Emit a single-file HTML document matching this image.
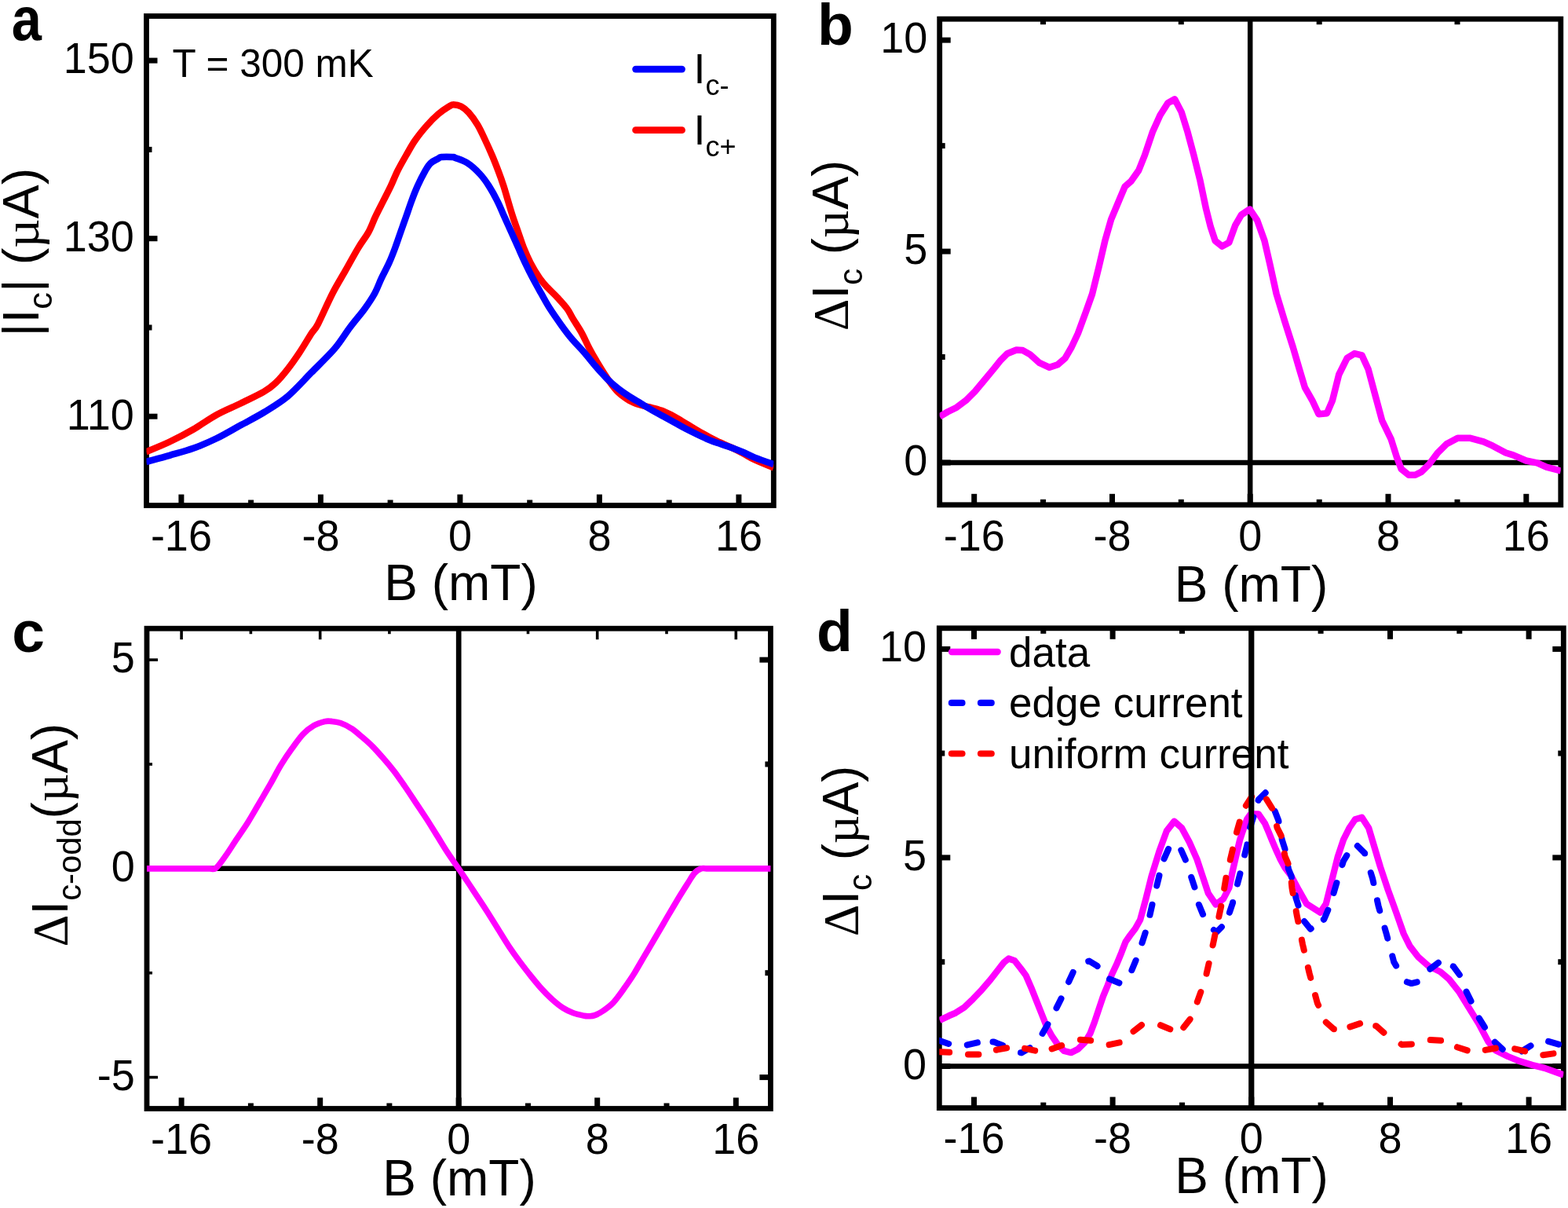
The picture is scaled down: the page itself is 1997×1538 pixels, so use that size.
<!DOCTYPE html>
<html><head><meta charset="utf-8"><style>html,body{margin:0;padding:0;background:#fff;overflow:hidden}svg{display:block}</style></head><body>
<svg width="1997" height="1538" viewBox="0 0 1997 1538">
<rect width="1997" height="1538" fill="#fff"/>
<defs><clipPath id="ca"><rect x="186.5" y="20.5" width="798.8" height="623"/></clipPath><clipPath id="cb"><rect x="1196.7" y="24.2" width="791.1" height="618.6"/></clipPath><clipPath id="cc"><rect x="187" y="800.2" width="794.4" height="611.3"/></clipPath><clipPath id="cd"><rect x="1196.3" y="799.8" width="795" height="610.8"/></clipPath></defs>
<rect x="186.5" y="20.5" width="798.8" height="623.0" fill="none" stroke="#000" stroke-width="6.8" stroke-linejoin="miter"/>
<line x1="230.9" y1="643.5" x2="230.9" y2="629.5" stroke="#000" stroke-width="7" stroke-linecap="butt"/>
<line x1="408.4" y1="643.5" x2="408.4" y2="629.5" stroke="#000" stroke-width="7" stroke-linecap="butt"/>
<line x1="585.9" y1="643.5" x2="585.9" y2="629.5" stroke="#000" stroke-width="7" stroke-linecap="butt"/>
<line x1="763.4" y1="643.5" x2="763.4" y2="629.5" stroke="#000" stroke-width="7" stroke-linecap="butt"/>
<line x1="940.9" y1="643.5" x2="940.9" y2="629.5" stroke="#000" stroke-width="7" stroke-linecap="butt"/>
<line x1="319.6" y1="643.5" x2="319.6" y2="636.5" stroke="#000" stroke-width="7" stroke-linecap="butt"/>
<line x1="497.1" y1="643.5" x2="497.1" y2="636.5" stroke="#000" stroke-width="7" stroke-linecap="butt"/>
<line x1="674.7" y1="643.5" x2="674.7" y2="636.5" stroke="#000" stroke-width="7" stroke-linecap="butt"/>
<line x1="852.2" y1="643.5" x2="852.2" y2="636.5" stroke="#000" stroke-width="7" stroke-linecap="butt"/>
<line x1="186.5" y1="77.1" x2="200.5" y2="77.1" stroke="#000" stroke-width="7" stroke-linecap="butt"/>
<line x1="186.5" y1="303.7" x2="200.5" y2="303.7" stroke="#000" stroke-width="7" stroke-linecap="butt"/>
<line x1="186.5" y1="530.2" x2="200.5" y2="530.2" stroke="#000" stroke-width="7" stroke-linecap="butt"/>
<line x1="186.5" y1="190.4" x2="193.5" y2="190.4" stroke="#000" stroke-width="7" stroke-linecap="butt"/>
<line x1="186.5" y1="417.0" x2="193.5" y2="417.0" stroke="#000" stroke-width="7" stroke-linecap="butt"/>
<g clip-path="url(#ca)">
<path d="M186.0,575.3 C191.0,573.2 206.0,567.3 216.0,562.5 C226.0,557.7 236.1,552.5 246.1,546.7 C256.1,541.0 266.1,533.5 276.1,528.0 C286.1,522.5 296.2,518.6 306.2,513.7 C316.2,508.8 328.7,503.1 336.2,498.7 C343.7,494.3 346.2,492.2 351.2,487.4 C356.2,482.6 361.3,476.5 366.3,470.1 C371.3,463.7 376.3,456.6 381.3,449.1 C386.3,441.6 392.4,431.1 396.3,425.0 C400.2,418.9 400.4,421.2 404.9,412.7 C409.4,404.1 417.5,385.1 423.4,373.7 C429.2,362.3 434.5,354.2 440.0,344.4 C445.5,334.6 451.7,323.2 456.6,315.1 C461.5,307.0 465.7,302.1 469.3,295.6 C472.9,289.1 474.9,282.6 478.0,276.1 C481.1,269.6 484.5,263.1 487.8,256.6 C491.1,250.1 494.5,243.6 497.6,237.1 C500.7,230.6 503.1,224.1 506.3,217.6 C509.6,211.1 513.4,204.5 517.1,198.0 C520.9,191.5 524.2,185.0 528.8,178.5 C533.3,172.0 539.5,164.5 544.4,159.0 C549.3,153.5 553.5,149.3 558.0,145.4 C562.5,141.5 568.4,137.6 571.7,135.6 C575.0,133.6 575.0,133.3 577.6,133.3 C580.2,133.3 584.1,133.9 587.3,135.6 C590.5,137.3 593.5,139.5 597.0,143.4 C600.5,147.3 604.8,153.2 608.3,159.0 C611.8,164.8 614.9,172.0 618.0,178.5 C621.1,185.0 624.0,191.5 626.8,198.0 C629.6,204.5 632.1,211.1 634.6,217.6 C637.1,224.1 639.4,230.6 641.5,237.1 C643.6,243.6 645.3,250.1 647.3,256.6 C649.2,263.1 651.1,269.6 653.2,276.1 C655.3,282.6 657.7,289.1 660.0,295.6 C662.3,302.1 664.2,308.6 666.8,315.1 C669.4,321.6 672.2,328.1 675.6,334.6 C679.0,341.1 683.7,348.9 687.3,354.1 C690.9,359.3 693.5,362.0 697.1,365.9 C700.7,369.8 704.6,373.1 708.8,377.6 C713.0,382.2 719.0,388.7 722.4,393.2 C725.8,397.7 726.0,399.6 729.0,404.7 C732.0,409.8 737.1,417.1 740.7,423.6 C744.3,430.1 747.2,437.1 750.8,443.9 C754.4,450.7 758.3,457.4 762.4,464.2 C766.5,471.0 771.4,478.8 775.5,484.6 C779.6,490.4 782.7,494.9 787.1,499.1 C791.5,503.3 796.9,507.2 801.7,510.0 C806.6,512.8 811.4,514.2 816.2,515.8 C821.0,517.4 825.9,518.1 830.7,519.4 C835.5,520.7 840.4,521.9 845.2,523.8 C850.0,525.7 854.9,528.4 859.7,531.0 C864.6,533.6 869.4,536.8 874.3,539.7 C879.1,542.6 884.0,545.7 888.8,548.5 C893.6,551.3 898.5,553.9 903.3,556.4 C908.1,558.9 912.9,561.4 917.8,563.7 C922.6,566.0 927.5,567.9 932.4,570.2 C937.2,572.5 942.1,575.0 946.9,577.5 C951.7,580.0 955.0,582.5 961.4,585.5 C967.8,588.5 981.3,593.8 985.3,595.5" fill="none" stroke="#ff0000" stroke-width="8.5" stroke-linejoin="round" stroke-linecap="butt"/>
<path d="M186.0,588.0 C191.0,586.6 206.0,582.7 216.0,579.8 C226.0,576.9 236.1,574.4 246.1,570.8 C256.1,567.2 266.1,562.9 276.1,558.0 C286.1,553.1 296.2,547.0 306.2,541.5 C316.2,536.0 326.2,531.1 336.2,525.0 C346.2,518.9 356.3,513.1 366.3,504.7 C376.3,496.3 386.3,484.8 396.3,474.6 C406.3,464.5 418.0,453.5 426.3,443.8 C434.6,434.1 439.5,425.0 445.9,416.6 C452.2,408.2 459.2,400.4 464.4,393.2 C469.6,386.0 473.5,380.2 477.1,373.7 C480.7,367.2 482.8,360.6 485.9,354.1 C489.0,347.6 492.7,341.1 495.6,334.6 C498.5,328.1 501.0,321.6 503.4,315.1 C505.8,308.6 507.9,302.1 510.2,295.6 C512.5,289.1 514.8,282.6 517.1,276.1 C519.4,269.6 521.5,263.1 523.9,256.6 C526.3,250.1 528.8,243.6 531.7,237.1 C534.6,230.6 538.7,222.5 541.5,217.6 C544.3,212.7 545.5,210.4 548.3,207.8 C551.0,205.2 555.7,203.3 558.0,202.0 C560.3,200.7 558.9,200.3 562.0,200.0 C565.1,199.7 573.6,199.8 576.6,200.0 C579.6,200.2 576.8,199.7 580.0,201.0 C583.2,202.3 590.4,204.4 595.6,207.8 C600.8,211.2 606.7,216.6 611.2,221.5 C615.8,226.4 619.1,231.2 622.9,237.1 C626.6,242.9 630.5,250.1 633.7,256.6 C637.0,263.1 639.5,269.6 642.4,276.1 C645.3,282.6 648.3,289.1 651.2,295.6 C654.1,302.1 657.1,308.6 660.0,315.1 C662.9,321.6 665.7,328.1 668.8,334.6 C671.9,341.1 675.1,347.6 678.5,354.1 C681.9,360.6 685.7,367.3 689.3,373.7 C692.9,380.1 695.8,385.7 700.0,392.3 C704.2,398.9 709.7,406.7 714.5,413.4 C719.3,420.1 724.1,426.5 729.0,432.3 C733.9,438.1 738.8,442.7 743.6,448.3 C748.5,453.9 753.3,460.1 758.1,465.7 C762.9,471.3 767.8,476.9 772.6,481.7 C777.4,486.5 782.2,490.8 787.1,494.7 C792.0,498.6 796.9,501.8 801.7,504.9 C806.6,508.0 811.4,510.7 816.2,513.6 C821.0,516.5 825.9,519.5 830.7,522.3 C835.5,525.1 840.4,527.6 845.2,530.3 C850.0,533.0 854.9,535.6 859.7,538.3 C864.6,541.0 869.4,543.8 874.3,546.3 C879.1,548.8 884.0,551.2 888.8,553.5 C893.6,555.8 898.5,558.1 903.3,560.1 C908.1,562.1 912.9,563.5 917.8,565.2 C922.6,566.9 927.5,568.4 932.4,570.2 C937.2,572.0 942.1,573.9 946.9,576.0 C951.7,578.1 955.0,580.1 961.4,582.6 C967.8,585.1 981.3,589.8 985.3,591.2" fill="none" stroke="#0000ff" stroke-width="8.5" stroke-linejoin="round" stroke-linecap="butt"/>
</g>
<text transform="translate(230.9,701.4) scale(1,1.045)" font-family='"Liberation Sans", Arial, sans-serif' font-size="54" text-anchor="middle">-16</text>
<text transform="translate(408.4,701.4) scale(1,1.045)" font-family='"Liberation Sans", Arial, sans-serif' font-size="54" text-anchor="middle">-8</text>
<text transform="translate(585.9,701.4) scale(1,1.045)" font-family='"Liberation Sans", Arial, sans-serif' font-size="54" text-anchor="middle">0</text>
<text transform="translate(763.4,701.4) scale(1,1.045)" font-family='"Liberation Sans", Arial, sans-serif' font-size="54" text-anchor="middle">8</text>
<text transform="translate(940.9,701.4) scale(1,1.045)" font-family='"Liberation Sans", Arial, sans-serif' font-size="54" text-anchor="middle">16</text>
<text transform="translate(170.8,93.4) scale(1,1.045)" font-family='"Liberation Sans", Arial, sans-serif' font-size="54" text-anchor="end">150</text>
<text transform="translate(170.8,320.0) scale(1,1.045)" font-family='"Liberation Sans", Arial, sans-serif' font-size="54" text-anchor="end">130</text>
<text transform="translate(170.8,546.5) scale(1,1.045)" font-family='"Liberation Sans", Arial, sans-serif' font-size="54" text-anchor="end">110</text>
<text x="587.0" y="763.7" font-family='"Liberation Sans", Arial, sans-serif' font-size="64" font-weight="normal" text-anchor="middle">B (mT)</text>
<text transform="translate(14.7,50.5) scale(0.915,1.045)" font-family='"Liberation Sans", Arial, sans-serif' font-size="75" font-weight="bold">a</text>
<text x="219.5" y="97.9" font-family='"Liberation Sans", Arial, sans-serif' font-size="49.5" font-weight="normal" text-anchor="start">T = 300 mK</text>
<line x1="809.6" y1="88.1" x2="868.5" y2="88.1" stroke="#0000ff" stroke-width="8.8" stroke-linecap="round"/>
<line x1="809.6" y1="165.7" x2="868.5" y2="165.7" stroke="#ff0000" stroke-width="8.8" stroke-linecap="round"/>
<text x="883.5" y="106.4" font-family='"Liberation Sans", Arial, sans-serif' font-size="53.5">I<tspan font-size="36" dy="15">c-</tspan></text>
<text x="883.5" y="184.3" font-family='"Liberation Sans", Arial, sans-serif' font-size="53.5">I<tspan font-size="36" dy="15">c+</tspan></text>
<text transform="translate(48.8,428.4) rotate(-90) scale(1.01,1)" font-family='"Liberation Sans", Arial, sans-serif' font-size="64">|I<tspan font-size="43" dy="16.8">c</tspan><tspan dy="-16.8">| (</tspan><tspan font-family='"Liberation Serif", "Times New Roman", serif'>µ</tspan>A)</text>
<line x1="1196.7" y1="589.0" x2="1987.8" y2="589.0" stroke="#000" stroke-width="6.5" stroke-linecap="butt"/>
<line x1="1592.2" y1="24.2" x2="1592.2" y2="642.8" stroke="#000" stroke-width="6.5" stroke-linecap="butt"/>
<rect x="1196.7" y="24.2" width="791.1" height="618.6" fill="none" stroke="#000" stroke-width="6.8" stroke-linejoin="miter"/>
<line x1="1240.7" y1="642.8" x2="1240.7" y2="628.8" stroke="#000" stroke-width="7" stroke-linecap="butt"/>
<line x1="1416.5" y1="642.8" x2="1416.5" y2="628.8" stroke="#000" stroke-width="7" stroke-linecap="butt"/>
<line x1="1592.2" y1="642.8" x2="1592.2" y2="628.8" stroke="#000" stroke-width="7" stroke-linecap="butt"/>
<line x1="1768.0" y1="642.8" x2="1768.0" y2="628.8" stroke="#000" stroke-width="7" stroke-linecap="butt"/>
<line x1="1943.8" y1="642.8" x2="1943.8" y2="628.8" stroke="#000" stroke-width="7" stroke-linecap="butt"/>
<line x1="1328.5" y1="642.8" x2="1328.5" y2="635.8" stroke="#000" stroke-width="7" stroke-linecap="butt"/>
<line x1="1504.3" y1="642.8" x2="1504.3" y2="635.8" stroke="#000" stroke-width="7" stroke-linecap="butt"/>
<line x1="1680.2" y1="642.8" x2="1680.2" y2="635.8" stroke="#000" stroke-width="7" stroke-linecap="butt"/>
<line x1="1856.0" y1="642.8" x2="1856.0" y2="635.8" stroke="#000" stroke-width="7" stroke-linecap="butt"/>
<line x1="1328.5" y1="24.2" x2="1328.5" y2="31.2" stroke="#000" stroke-width="7" stroke-linecap="butt"/>
<line x1="1504.3" y1="24.2" x2="1504.3" y2="31.2" stroke="#000" stroke-width="7" stroke-linecap="butt"/>
<line x1="1680.2" y1="24.2" x2="1680.2" y2="31.2" stroke="#000" stroke-width="7" stroke-linecap="butt"/>
<line x1="1856.0" y1="24.2" x2="1856.0" y2="31.2" stroke="#000" stroke-width="7" stroke-linecap="butt"/>
<line x1="1196.7" y1="589.0" x2="1210.7" y2="589.0" stroke="#000" stroke-width="7" stroke-linecap="butt"/>
<line x1="1196.7" y1="320.1" x2="1210.7" y2="320.1" stroke="#000" stroke-width="7" stroke-linecap="butt"/>
<line x1="1196.7" y1="51.1" x2="1210.7" y2="51.1" stroke="#000" stroke-width="7" stroke-linecap="butt"/>
<line x1="1196.7" y1="454.5" x2="1203.7" y2="454.5" stroke="#000" stroke-width="7" stroke-linecap="butt"/>
<line x1="1196.7" y1="185.6" x2="1203.7" y2="185.6" stroke="#000" stroke-width="7" stroke-linecap="butt"/>
<g clip-path="url(#cb)">
<polyline points="1196.8,530.4 1206.7,524.5 1218.4,518.7 1230.1,509.9 1241.8,498.2 1253.5,484.2 1265.2,470.1 1274.6,458.4 1282.8,450.2 1294.5,445.5 1302.7,446.1 1312.0,451.4 1323.7,461.9 1336.6,467.8 1347.1,464.3 1356.5,456.1 1364.7,442.0 1372.9,424.5 1383.0,397.0 1391.0,374.5 1399.5,339.9 1407.3,306.7 1415.1,279.4 1424.9,256.0 1432.7,237.5 1440.5,230.7 1450.2,217.0 1458.0,197.5 1467.8,168.3 1477.5,146.8 1487.3,131.2 1496.1,126.3 1504.8,142.9 1512.6,168.3 1520.4,197.5 1528.2,228.7 1536.0,265.8 1541.9,289.2 1547.7,306.7 1556.5,313.6 1565.3,308.7 1573.1,287.2 1580.9,273.6 1591.7,266.4 1601.1,280.4 1610.4,306.2 1617.4,336.6 1625.6,374.0 1636.2,409.1 1646.7,441.9 1654.9,470.0 1661.9,493.4 1671.3,509.8 1679.5,527.3 1690.0,526.2 1697.0,509.8 1705.2,477.0 1715.7,455.9 1725.1,450.1 1734.5,452.4 1742.6,470.0 1752.0,505.1 1760.2,535.5 1771.8,559.4 1778.8,581.8 1784.7,597.1 1794.1,604.7 1802.4,604.7 1810.6,600.6 1820.0,591.2 1830.6,577.1 1842.4,565.3 1856.5,557.7 1871.8,557.7 1889.4,562.4 1901.2,567.7 1917.7,576.5 1927.1,579.4 1943.6,586.5 1957.7,589.4 1969.5,594.7 1987.8,599.5" fill="none" stroke="#ff00ff" stroke-width="8.5" stroke-linejoin="round" stroke-linecap="butt"/>
</g>
<text transform="translate(1240.7,700.6) scale(1,1.045)" font-family='"Liberation Sans", Arial, sans-serif' font-size="54" text-anchor="middle">-16</text>
<text transform="translate(1416.5,700.6) scale(1,1.045)" font-family='"Liberation Sans", Arial, sans-serif' font-size="54" text-anchor="middle">-8</text>
<text transform="translate(1592.2,700.6) scale(1,1.045)" font-family='"Liberation Sans", Arial, sans-serif' font-size="54" text-anchor="middle">0</text>
<text transform="translate(1768.0,700.6) scale(1,1.045)" font-family='"Liberation Sans", Arial, sans-serif' font-size="54" text-anchor="middle">8</text>
<text transform="translate(1943.8,700.6) scale(1,1.045)" font-family='"Liberation Sans", Arial, sans-serif' font-size="54" text-anchor="middle">16</text>
<text transform="translate(1181.2,605.1) scale(1,1.045)" font-family='"Liberation Sans", Arial, sans-serif' font-size="54" text-anchor="end">0</text>
<text transform="translate(1181.2,336.2) scale(1,1.045)" font-family='"Liberation Sans", Arial, sans-serif' font-size="54" text-anchor="end">5</text>
<text transform="translate(1181.2,67.2) scale(1,1.045)" font-family='"Liberation Sans", Arial, sans-serif' font-size="54" text-anchor="end">10</text>
<text x="1593.5" y="765.5" font-family='"Liberation Sans", Arial, sans-serif' font-size="64" font-weight="normal" text-anchor="middle">B (mT)</text>
<text x="1041.0" y="56.5" font-family='"Liberation Sans", Arial, sans-serif' font-size="75" font-weight="bold" text-anchor="start">b</text>
<text transform="translate(1080,421.2) rotate(-90) scale(0.987,1)" font-family='"Liberation Sans", Arial, sans-serif' font-size="64"><tspan font-family='"Liberation Serif", "Times New Roman", serif'>Δ</tspan>I<tspan font-size="43" dy="17.5">c</tspan><tspan dy="-17.5"> (</tspan><tspan font-family='"Liberation Serif", "Times New Roman", serif'>µ</tspan>A)</text>
<line x1="187.0" y1="1105.8" x2="981.4" y2="1105.8" stroke="#000" stroke-width="6.5" stroke-linecap="butt"/>
<line x1="584.2" y1="800.2" x2="584.2" y2="1411.5" stroke="#000" stroke-width="6.7" stroke-linecap="butt"/>
<rect x="187.0" y="800.2" width="794.4" height="611.3" fill="none" stroke="#000" stroke-width="6.8" stroke-linejoin="miter"/>
<line x1="231.1" y1="1411.5" x2="231.1" y2="1397.5" stroke="#000" stroke-width="7" stroke-linecap="butt"/>
<line x1="407.7" y1="1411.5" x2="407.7" y2="1397.5" stroke="#000" stroke-width="7" stroke-linecap="butt"/>
<line x1="584.2" y1="1411.5" x2="584.2" y2="1397.5" stroke="#000" stroke-width="7" stroke-linecap="butt"/>
<line x1="760.7" y1="1411.5" x2="760.7" y2="1397.5" stroke="#000" stroke-width="7" stroke-linecap="butt"/>
<line x1="937.3" y1="1411.5" x2="937.3" y2="1397.5" stroke="#000" stroke-width="7" stroke-linecap="butt"/>
<line x1="319.4" y1="1411.5" x2="319.4" y2="1404.5" stroke="#000" stroke-width="7" stroke-linecap="butt"/>
<line x1="495.9" y1="1411.5" x2="495.9" y2="1404.5" stroke="#000" stroke-width="7" stroke-linecap="butt"/>
<line x1="672.5" y1="1411.5" x2="672.5" y2="1404.5" stroke="#000" stroke-width="7" stroke-linecap="butt"/>
<line x1="849.0" y1="1411.5" x2="849.0" y2="1404.5" stroke="#000" stroke-width="7" stroke-linecap="butt"/>
<line x1="231.1" y1="800.2" x2="231.1" y2="814.2" stroke="#000" stroke-width="3.6" stroke-linecap="butt"/>
<line x1="407.7" y1="800.2" x2="407.7" y2="814.2" stroke="#000" stroke-width="3.6" stroke-linecap="butt"/>
<line x1="760.7" y1="800.2" x2="760.7" y2="814.2" stroke="#000" stroke-width="3.6" stroke-linecap="butt"/>
<line x1="937.3" y1="800.2" x2="937.3" y2="814.2" stroke="#000" stroke-width="3.6" stroke-linecap="butt"/>
<line x1="319.4" y1="800.2" x2="319.4" y2="807.2" stroke="#000" stroke-width="3.6" stroke-linecap="butt"/>
<line x1="495.9" y1="800.2" x2="495.9" y2="807.2" stroke="#000" stroke-width="3.6" stroke-linecap="butt"/>
<line x1="672.5" y1="800.2" x2="672.5" y2="807.2" stroke="#000" stroke-width="3.6" stroke-linecap="butt"/>
<line x1="849.0" y1="800.2" x2="849.0" y2="807.2" stroke="#000" stroke-width="3.6" stroke-linecap="butt"/>
<line x1="187.0" y1="840.1" x2="201.0" y2="840.1" stroke="#000" stroke-width="3.6" stroke-linecap="butt"/>
<line x1="187.0" y1="1371.6" x2="201.0" y2="1371.6" stroke="#000" stroke-width="3.6" stroke-linecap="butt"/>
<line x1="187.0" y1="973.0" x2="194.0" y2="973.0" stroke="#000" stroke-width="3.6" stroke-linecap="butt"/>
<line x1="187.0" y1="1238.7" x2="194.0" y2="1238.7" stroke="#000" stroke-width="3.6" stroke-linecap="butt"/>
<line x1="981.4" y1="840.1" x2="967.4" y2="840.1" stroke="#000" stroke-width="7" stroke-linecap="butt"/>
<line x1="981.4" y1="1371.6" x2="967.4" y2="1371.6" stroke="#000" stroke-width="7" stroke-linecap="butt"/>
<line x1="981.4" y1="973.0" x2="974.4" y2="973.0" stroke="#000" stroke-width="7" stroke-linecap="butt"/>
<line x1="981.4" y1="1238.7" x2="974.4" y2="1238.7" stroke="#000" stroke-width="7" stroke-linecap="butt"/>
<g clip-path="url(#cc)">
<path d="M187.0,1105.9 C188.3,1105.9 192.3,1105.9 195.0,1105.9 C197.7,1105.9 200.3,1105.9 203.0,1105.9 C205.7,1105.9 208.3,1105.9 211.0,1105.9 C213.7,1105.9 216.3,1105.9 219.0,1105.9 C221.7,1105.9 224.3,1105.9 227.0,1105.9 C229.7,1105.9 232.3,1105.9 235.0,1105.9 C237.7,1105.9 240.3,1105.9 243.0,1105.9 C245.7,1105.9 248.3,1105.9 251.0,1105.9 C253.7,1105.9 256.3,1105.9 259.0,1105.9 C261.7,1105.9 264.5,1105.9 267.0,1105.9 C269.5,1105.9 271.7,1107.2 274.0,1105.9 C276.3,1104.7 278.7,1101.3 281.0,1098.4 C283.3,1095.5 284.5,1093.8 288.0,1088.7 C291.5,1083.6 297.2,1074.7 301.9,1067.7 C306.5,1060.7 311.2,1054.2 315.9,1046.7 C320.6,1039.2 325.2,1030.9 329.9,1023.0 C334.5,1015.1 339.1,1007.4 343.8,999.2 C348.5,991.1 353.1,981.8 357.8,974.1 C362.5,966.4 367.1,959.6 371.8,953.1 C376.5,946.6 381.2,939.8 385.8,934.9 C390.4,930.0 395.1,926.5 399.7,923.8 C404.3,921.1 410.0,919.5 413.7,918.6 C417.4,917.7 418.7,918.1 422.0,918.4 C425.3,918.7 429.5,919.0 433.7,920.5 C437.9,922.0 442.8,924.3 447.3,927.3 C451.9,930.2 456.4,934.3 461.0,938.2 C465.6,942.1 470.1,945.9 474.6,950.5 C479.2,955.1 483.8,960.4 488.3,965.6 C492.9,970.8 497.3,976.0 501.9,981.9 C506.4,987.8 511.0,994.5 515.6,1001.1 C520.2,1007.7 524.8,1014.8 529.3,1021.6 C533.8,1028.4 538.3,1035.0 542.9,1042.0 C547.5,1049.0 552.0,1056.6 556.6,1063.9 C561.2,1071.2 565.6,1078.7 570.2,1085.7 C574.8,1092.7 579.8,1099.6 584.1,1105.9 C588.4,1112.2 592.1,1117.7 596.0,1123.5 C599.9,1129.3 603.1,1134.3 607.3,1140.6 C611.5,1146.9 616.5,1154.4 621.0,1161.5 C625.5,1168.6 630.1,1176.0 634.6,1183.3 C639.1,1190.6 643.8,1198.4 648.3,1205.2 C652.8,1212.0 657.3,1218.2 661.9,1224.3 C666.5,1230.4 671.0,1236.3 675.6,1242.0 C680.2,1247.7 684.8,1253.4 689.3,1258.4 C693.8,1263.4 698.3,1268.0 702.9,1272.1 C707.5,1276.2 712.0,1280.0 716.6,1283.0 C721.2,1286.0 725.7,1288.1 730.2,1289.8 C734.8,1291.5 740.5,1292.6 743.9,1293.3 C747.3,1294.0 748.6,1293.8 750.9,1293.7 C753.2,1293.6 754.8,1293.6 757.5,1292.6 C760.2,1291.6 763.4,1290.2 767.3,1287.5 C771.2,1284.8 776.5,1281.4 781.0,1276.6 C785.5,1271.8 790.1,1265.2 794.6,1258.8 C799.1,1252.4 803.8,1245.7 808.3,1238.4 C812.8,1231.1 817.3,1222.9 821.9,1215.2 C826.5,1207.5 831.0,1199.8 835.6,1192.0 C840.2,1184.2 844.7,1176.5 849.2,1168.7 C853.8,1161.0 858.4,1153.0 862.9,1145.5 C867.4,1138.0 872.9,1129.4 876.5,1123.7 C880.1,1118.0 882.0,1114.4 884.7,1111.4 C887.4,1108.4 890.2,1106.8 892.9,1105.9 C895.6,1105.0 898.3,1105.9 901.0,1105.9 C903.7,1105.9 906.3,1105.9 909.0,1105.9 C911.7,1105.9 914.3,1105.9 917.0,1105.9 C919.7,1105.9 922.3,1105.9 925.0,1105.9 C927.7,1105.9 930.3,1105.9 933.0,1105.9 C935.7,1105.9 938.3,1105.9 941.0,1105.9 C943.7,1105.9 946.3,1105.9 949.0,1105.9 C951.7,1105.9 954.3,1105.9 957.0,1105.9 C959.7,1105.9 962.3,1105.9 965.0,1105.9 C967.7,1105.9 970.3,1105.9 973.0,1105.9 C975.7,1105.9 979.6,1105.9 981.0,1105.9 C982.4,1105.9 981.3,1105.9 981.4,1105.9" fill="none" stroke="#ff00ff" stroke-width="7.6" stroke-linejoin="round" stroke-linecap="butt"/>
</g>
<text transform="translate(231.1,1468.5) scale(1,1.045)" font-family='"Liberation Sans", Arial, sans-serif' font-size="54" text-anchor="middle">-16</text>
<text transform="translate(407.7,1468.5) scale(1,1.045)" font-family='"Liberation Sans", Arial, sans-serif' font-size="54" text-anchor="middle">-8</text>
<text transform="translate(584.2,1468.5) scale(1,1.045)" font-family='"Liberation Sans", Arial, sans-serif' font-size="54" text-anchor="middle">0</text>
<text transform="translate(760.7,1468.5) scale(1,1.045)" font-family='"Liberation Sans", Arial, sans-serif' font-size="54" text-anchor="middle">8</text>
<text transform="translate(937.3,1468.5) scale(1,1.045)" font-family='"Liberation Sans", Arial, sans-serif' font-size="54" text-anchor="middle">16</text>
<text transform="translate(171.8,856.4) scale(1,1.045)" font-family='"Liberation Sans", Arial, sans-serif' font-size="54" text-anchor="end">5</text>
<text transform="translate(171.8,1122.1) scale(1,1.045)" font-family='"Liberation Sans", Arial, sans-serif' font-size="54" text-anchor="end">0</text>
<text transform="translate(171.8,1387.9) scale(1,1.045)" font-family='"Liberation Sans", Arial, sans-serif' font-size="54" text-anchor="end">-5</text>
<text x="585.0" y="1522.2" font-family='"Liberation Sans", Arial, sans-serif' font-size="64" font-weight="normal" text-anchor="middle">B (mT)</text>
<text x="15.2" y="829.6" font-family='"Liberation Sans", Arial, sans-serif' font-size="75" font-weight="bold" text-anchor="start">c</text>
<text transform="translate(86.1,1205.5) rotate(-90) scale(0.995,1)" font-family='"Liberation Sans", Arial, sans-serif' font-size="64"><tspan font-family='"Liberation Serif", "Times New Roman", serif'>Δ</tspan>I<tspan font-size="42" dy="16.7">c-odd</tspan><tspan dy="-16.7">(</tspan><tspan font-family='"Liberation Serif", "Times New Roman", serif'>µ</tspan>A)</text>
<line x1="1196.3" y1="1357.5" x2="1991.3" y2="1357.5" stroke="#000" stroke-width="6.5" stroke-linecap="butt"/>
<line x1="1593.8" y1="799.8" x2="1593.8" y2="1410.6" stroke="#000" stroke-width="6.8" stroke-linecap="butt"/>
<rect x="1196.3" y="799.8" width="795.0" height="610.8" fill="none" stroke="#000" stroke-width="6.8" stroke-linejoin="miter"/>
<line x1="1240.5" y1="1410.6" x2="1240.5" y2="1396.6" stroke="#000" stroke-width="7" stroke-linecap="butt"/>
<line x1="1417.1" y1="1410.6" x2="1417.1" y2="1396.6" stroke="#000" stroke-width="7" stroke-linecap="butt"/>
<line x1="1593.8" y1="1410.6" x2="1593.8" y2="1396.6" stroke="#000" stroke-width="7" stroke-linecap="butt"/>
<line x1="1770.5" y1="1410.6" x2="1770.5" y2="1396.6" stroke="#000" stroke-width="7" stroke-linecap="butt"/>
<line x1="1947.1" y1="1410.6" x2="1947.1" y2="1396.6" stroke="#000" stroke-width="7" stroke-linecap="butt"/>
<line x1="1328.8" y1="1410.6" x2="1328.8" y2="1403.6" stroke="#000" stroke-width="7" stroke-linecap="butt"/>
<line x1="1505.5" y1="1410.6" x2="1505.5" y2="1403.6" stroke="#000" stroke-width="7" stroke-linecap="butt"/>
<line x1="1682.1" y1="1410.6" x2="1682.1" y2="1403.6" stroke="#000" stroke-width="7" stroke-linecap="butt"/>
<line x1="1858.8" y1="1410.6" x2="1858.8" y2="1403.6" stroke="#000" stroke-width="7" stroke-linecap="butt"/>
<line x1="1240.5" y1="799.8" x2="1240.5" y2="813.8" stroke="#000" stroke-width="7" stroke-linecap="butt"/>
<line x1="1417.1" y1="799.8" x2="1417.1" y2="813.8" stroke="#000" stroke-width="7" stroke-linecap="butt"/>
<line x1="1770.5" y1="799.8" x2="1770.5" y2="813.8" stroke="#000" stroke-width="7" stroke-linecap="butt"/>
<line x1="1947.1" y1="799.8" x2="1947.1" y2="813.8" stroke="#000" stroke-width="7" stroke-linecap="butt"/>
<line x1="1328.8" y1="799.8" x2="1328.8" y2="806.8" stroke="#000" stroke-width="7" stroke-linecap="butt"/>
<line x1="1505.5" y1="799.8" x2="1505.5" y2="806.8" stroke="#000" stroke-width="7" stroke-linecap="butt"/>
<line x1="1682.1" y1="799.8" x2="1682.1" y2="806.8" stroke="#000" stroke-width="7" stroke-linecap="butt"/>
<line x1="1858.8" y1="799.8" x2="1858.8" y2="806.8" stroke="#000" stroke-width="7" stroke-linecap="butt"/>
<line x1="1196.3" y1="826.4" x2="1210.3" y2="826.4" stroke="#000" stroke-width="7" stroke-linecap="butt"/>
<line x1="1196.3" y1="1091.9" x2="1210.3" y2="1091.9" stroke="#000" stroke-width="7" stroke-linecap="butt"/>
<line x1="1196.3" y1="1357.5" x2="1210.3" y2="1357.5" stroke="#000" stroke-width="7" stroke-linecap="butt"/>
<line x1="1196.3" y1="959.1" x2="1203.3" y2="959.1" stroke="#000" stroke-width="7" stroke-linecap="butt"/>
<line x1="1196.3" y1="1224.7" x2="1203.3" y2="1224.7" stroke="#000" stroke-width="7" stroke-linecap="butt"/>
<line x1="1991.3" y1="826.4" x2="1977.3" y2="826.4" stroke="#000" stroke-width="7" stroke-linecap="butt"/>
<line x1="1991.3" y1="1091.9" x2="1977.3" y2="1091.9" stroke="#000" stroke-width="7" stroke-linecap="butt"/>
<line x1="1991.3" y1="1357.5" x2="1977.3" y2="1357.5" stroke="#000" stroke-width="7" stroke-linecap="butt"/>
<line x1="1991.3" y1="959.1" x2="1984.3" y2="959.1" stroke="#000" stroke-width="7" stroke-linecap="butt"/>
<line x1="1991.3" y1="1224.7" x2="1984.3" y2="1224.7" stroke="#000" stroke-width="7" stroke-linecap="butt"/>
<g clip-path="url(#cd)">
<polyline points="1196.7,1299.0 1208.3,1293.4 1217.1,1289.6 1228.2,1282.4 1239.2,1271.9 1250.3,1260.3 1261.3,1247.5 1272.4,1233.2 1279.0,1224.9 1284.6,1220.5 1292.3,1223.2 1300.0,1233.0 1306.6,1241.9 1313.3,1257.3 1319.9,1273.9 1326.5,1290.5 1333.1,1307.1 1339.8,1319.2 1347.5,1330.3 1355.2,1338.0 1364.1,1340.2 1372.9,1335.8 1381.8,1327.0 1388.4,1315.9 1393.9,1301.5 1399.4,1285.0 1405.0,1268.4 1410.5,1255.1 1416.0,1240.8 1422.7,1226.4 1428.2,1213.1 1433.7,1198.8 1439.2,1191.0 1445.9,1182.2 1452.2,1170.9 1459.4,1144.4 1466.6,1115.5 1476.3,1084.2 1485.9,1057.8 1495.5,1045.7 1505.1,1054.2 1514.8,1072.2 1524.4,1093.9 1531.6,1115.5 1538.8,1137.2 1548.5,1151.6 1558.1,1144.4 1565.5,1130.0 1570.0,1108.3 1574.6,1088.3 1579.1,1069.2 1583.7,1055.5 1588.2,1042.8 1592.8,1036.4 1602.8,1036.4 1611.0,1048.3 1615.6,1059.2 1620.1,1070.1 1624.7,1081.0 1630.1,1092.9 1636.5,1104.7 1644.7,1115.6 1654.2,1133.4 1664.1,1150.7 1681.4,1161.8 1688.8,1150.7 1696.2,1121.0 1703.6,1091.4 1711.0,1069.1 1718.4,1054.3 1725.9,1043.2 1734.5,1040.7 1743.2,1054.3 1750.6,1079.0 1758.0,1103.7 1767.9,1133.4 1777.8,1160.6 1787.8,1189.0 1795.6,1204.6 1806.5,1218.7 1819.0,1229.6 1834.6,1237.4 1845.5,1246.7 1858.0,1262.3 1870.5,1282.6 1883.0,1302.9 1895.5,1326.3 1904.8,1337.2 1920.4,1345.0 1936.0,1351.3 1951.6,1356.0 1967.2,1359.9 1991.3,1368.5" fill="none" stroke="#ff00ff" stroke-width="8.3" stroke-linejoin="round" stroke-linecap="butt"/>
<polyline points="1196.7,1324.9 1208.2,1329.0" fill="none" stroke="#0000ff" stroke-width="8" stroke-linejoin="round" stroke-linecap="round"/>
<polyline points="1231.8,1330.4 1244.9,1327.3" fill="none" stroke="#0000ff" stroke-width="8" stroke-linejoin="round" stroke-linecap="round"/>
<polyline points="1264.5,1326.6 1265.8,1326.6 1277.1,1330.9" fill="none" stroke="#0000ff" stroke-width="8" stroke-linejoin="round" stroke-linecap="round"/>
<polyline points="1300.0,1340.2 1301.1,1340.4 1311.7,1334.1" fill="none" stroke="#0000ff" stroke-width="8" stroke-linejoin="round" stroke-linecap="round"/>
<polyline points="1327.6,1315.9 1334.4,1304.3" fill="none" stroke="#0000ff" stroke-width="8" stroke-linejoin="round" stroke-linecap="round"/>
<polyline points="1345.5,1283.4 1351.5,1271.4" fill="none" stroke="#0000ff" stroke-width="8" stroke-linejoin="round" stroke-linecap="round"/>
<polyline points="1361.1,1250.0 1366.7,1237.9" fill="none" stroke="#0000ff" stroke-width="8" stroke-linejoin="round" stroke-linecap="round"/>
<polyline points="1386.2,1223.9 1387.3,1223.6 1397.2,1229.7 1397.6,1230.1" fill="none" stroke="#0000ff" stroke-width="8" stroke-linejoin="round" stroke-linecap="round"/>
<polyline points="1413.0,1246.4 1425.4,1251.5" fill="none" stroke="#0000ff" stroke-width="8" stroke-linejoin="round" stroke-linecap="round"/>
<polyline points="1441.4,1235.2 1446.6,1222.8" fill="none" stroke="#0000ff" stroke-width="8" stroke-linejoin="round" stroke-linecap="round"/>
<polyline points="1454.5,1200.4 1454.7,1199.9 1458.7,1187.6" fill="none" stroke="#0000ff" stroke-width="8" stroke-linejoin="round" stroke-linecap="round"/>
<polyline points="1464.5,1164.8 1467.5,1151.7" fill="none" stroke="#0000ff" stroke-width="8" stroke-linejoin="round" stroke-linecap="round"/>
<polyline points="1473.3,1127.6 1476.3,1115.5 1476.5,1114.6" fill="none" stroke="#0000ff" stroke-width="8" stroke-linejoin="round" stroke-linecap="round"/>
<polyline points="1482.6,1093.3 1488.1,1081.0" fill="none" stroke="#0000ff" stroke-width="8" stroke-linejoin="round" stroke-linecap="round"/>
<polyline points="1504.3,1082.4 1509.8,1094.6" fill="none" stroke="#0000ff" stroke-width="8" stroke-linejoin="round" stroke-linecap="round"/>
<polyline points="1517.2,1116.8 1521.4,1129.5" fill="none" stroke="#0000ff" stroke-width="8" stroke-linejoin="round" stroke-linecap="round"/>
<polyline points="1526.9,1151.8 1532.0,1164.1" fill="none" stroke="#0000ff" stroke-width="8" stroke-linejoin="round" stroke-linecap="round"/>
<polyline points="1545.9,1184.0 1549.7,1186.5 1555.9,1180.2" fill="none" stroke="#0000ff" stroke-width="8" stroke-linejoin="round" stroke-linecap="round"/>
<polyline points="1565.9,1161.8 1570.1,1149.2 1570.1,1149.1" fill="none" stroke="#0000ff" stroke-width="8" stroke-linejoin="round" stroke-linecap="round"/>
<polyline points="1576.0,1125.4 1576.1,1125.1 1579.4,1112.4" fill="none" stroke="#0000ff" stroke-width="8" stroke-linejoin="round" stroke-linecap="round"/>
<polyline points="1585.2,1088.4 1588.2,1076.5 1588.4,1075.4" fill="none" stroke="#0000ff" stroke-width="8" stroke-linejoin="round" stroke-linecap="round"/>
<polyline points="1592.1,1053.2 1596.3,1040.4" fill="none" stroke="#0000ff" stroke-width="8" stroke-linejoin="round" stroke-linecap="round"/>
<polyline points="1602.6,1018.9 1602.8,1018.2 1611.7,1009.3" fill="none" stroke="#0000ff" stroke-width="8" stroke-linejoin="round" stroke-linecap="round"/>
<polyline points="1623.8,1033.0 1628.3,1044.6 1628.5,1045.5" fill="none" stroke="#0000ff" stroke-width="8" stroke-linejoin="round" stroke-linecap="round"/>
<polyline points="1632.6,1068.1 1632.8,1069.2 1636.5,1080.9" fill="none" stroke="#0000ff" stroke-width="8" stroke-linejoin="round" stroke-linecap="round"/>
<polyline points="1640.6,1104.1 1641.0,1106.5 1644.7,1115.6 1644.9,1116.7" fill="none" stroke="#0000ff" stroke-width="8" stroke-linejoin="round" stroke-linecap="round"/>
<polyline points="1649.8,1140.0 1650.5,1143.3 1653.5,1152.8" fill="none" stroke="#0000ff" stroke-width="8" stroke-linejoin="round" stroke-linecap="round"/>
<polyline points="1661.1,1173.0 1669.0,1182.8 1669.7,1182.3" fill="none" stroke="#0000ff" stroke-width="8" stroke-linejoin="round" stroke-linecap="round"/>
<polyline points="1685.8,1170.8 1686.3,1170.5 1691.3,1158.7" fill="none" stroke="#0000ff" stroke-width="8" stroke-linejoin="round" stroke-linecap="round"/>
<polyline points="1698.6,1136.9 1701.1,1128.4 1702.4,1124.1" fill="none" stroke="#0000ff" stroke-width="8" stroke-linejoin="round" stroke-linecap="round"/>
<polyline points="1709.5,1101.1 1711.0,1096.3 1715.3,1089.1" fill="none" stroke="#0000ff" stroke-width="8" stroke-linejoin="round" stroke-linecap="round"/>
<polyline points="1728.8,1077.0 1738.2,1086.4 1738.2,1086.5" fill="none" stroke="#0000ff" stroke-width="8" stroke-linejoin="round" stroke-linecap="round"/>
<polyline points="1745.8,1111.1 1748.1,1118.6 1749.3,1124.0" fill="none" stroke="#0000ff" stroke-width="8" stroke-linejoin="round" stroke-linecap="round"/>
<polyline points="1754.0,1146.3 1755.5,1153.2 1757.2,1159.3" fill="none" stroke="#0000ff" stroke-width="8" stroke-linejoin="round" stroke-linecap="round"/>
<polyline points="1763.6,1181.7 1765.4,1187.8 1767.2,1194.6" fill="none" stroke="#0000ff" stroke-width="8" stroke-linejoin="round" stroke-linecap="round"/>
<polyline points="1773.3,1217.3 1775.3,1224.9 1778.1,1229.6" fill="none" stroke="#0000ff" stroke-width="8" stroke-linejoin="round" stroke-linecap="round"/>
<polyline points="1791.9,1250.2 1797.6,1252.1 1804.7,1250.3" fill="none" stroke="#0000ff" stroke-width="8" stroke-linejoin="round" stroke-linecap="round"/>
<polyline points="1821.3,1233.8 1831.9,1225.7" fill="none" stroke="#0000ff" stroke-width="8" stroke-linejoin="round" stroke-linecap="round"/>
<polyline points="1850.8,1230.3 1851.0,1230.4 1858.8,1241.0" fill="none" stroke="#0000ff" stroke-width="8" stroke-linejoin="round" stroke-linecap="round"/>
<polyline points="1867.5,1262.6 1873.5,1274.6" fill="none" stroke="#0000ff" stroke-width="8" stroke-linejoin="round" stroke-linecap="round"/>
<polyline points="1883.8,1296.4 1890.8,1307.6 1890.9,1307.8" fill="none" stroke="#0000ff" stroke-width="8" stroke-linejoin="round" stroke-linecap="round"/>
<polyline points="1903.8,1326.8 1913.7,1335.9" fill="none" stroke="#0000ff" stroke-width="8" stroke-linejoin="round" stroke-linecap="round"/>
<polyline points="1938.1,1338.5 1949.5,1331.4" fill="none" stroke="#0000ff" stroke-width="8" stroke-linejoin="round" stroke-linecap="round"/>
<polyline points="1972.1,1325.8 1985.0,1329.6" fill="none" stroke="#0000ff" stroke-width="8" stroke-linejoin="round" stroke-linecap="round"/>
<polyline points="1196.7,1339.3 1209.2,1339.8" fill="none" stroke="#ff0000" stroke-width="8" stroke-linejoin="round" stroke-linecap="round"/>
<polyline points="1233.0,1342.6 1246.4,1342.6" fill="none" stroke="#ff0000" stroke-width="8" stroke-linejoin="round" stroke-linecap="round"/>
<polyline points="1268.9,1336.7 1282.1,1334.3" fill="none" stroke="#ff0000" stroke-width="8" stroke-linejoin="round" stroke-linecap="round"/>
<polyline points="1305.1,1334.9 1318.2,1337.6" fill="none" stroke="#ff0000" stroke-width="8" stroke-linejoin="round" stroke-linecap="round"/>
<polyline points="1339.6,1335.5 1352.2,1331.0" fill="none" stroke="#ff0000" stroke-width="8" stroke-linejoin="round" stroke-linecap="round"/>
<polyline points="1375.9,1323.7 1389.2,1324.7" fill="none" stroke="#ff0000" stroke-width="8" stroke-linejoin="round" stroke-linecap="round"/>
<polyline points="1412.6,1330.1 1425.7,1327.3" fill="none" stroke="#ff0000" stroke-width="8" stroke-linejoin="round" stroke-linecap="round"/>
<polyline points="1443.5,1313.2 1454.0,1305.0" fill="none" stroke="#ff0000" stroke-width="8" stroke-linejoin="round" stroke-linecap="round"/>
<polyline points="1478.0,1305.2 1490.3,1310.4" fill="none" stroke="#ff0000" stroke-width="8" stroke-linejoin="round" stroke-linecap="round"/>
<polyline points="1507.3,1308.2 1515.6,1297.7" fill="none" stroke="#ff0000" stroke-width="8" stroke-linejoin="round" stroke-linecap="round"/>
<polyline points="1524.8,1275.6 1529.3,1263.0" fill="none" stroke="#ff0000" stroke-width="8" stroke-linejoin="round" stroke-linecap="round"/>
<polyline points="1536.6,1239.7 1539.6,1226.7" fill="none" stroke="#ff0000" stroke-width="8" stroke-linejoin="round" stroke-linecap="round"/>
<polyline points="1544.6,1203.4 1544.9,1202.2 1547.4,1190.3" fill="none" stroke="#ff0000" stroke-width="8" stroke-linejoin="round" stroke-linecap="round"/>
<polyline points="1552.4,1167.0 1555.2,1153.9" fill="none" stroke="#ff0000" stroke-width="8" stroke-linejoin="round" stroke-linecap="round"/>
<polyline points="1559.2,1131.1 1561.4,1117.8" fill="none" stroke="#ff0000" stroke-width="8" stroke-linejoin="round" stroke-linecap="round"/>
<polyline points="1566.8,1094.7 1569.9,1081.6" fill="none" stroke="#ff0000" stroke-width="8" stroke-linejoin="round" stroke-linecap="round"/>
<polyline points="1575.0,1059.6 1578.7,1046.7" fill="none" stroke="#ff0000" stroke-width="8" stroke-linejoin="round" stroke-linecap="round"/>
<polyline points="1586.9,1025.7 1594.1,1014.4" fill="none" stroke="#ff0000" stroke-width="8" stroke-linejoin="round" stroke-linecap="round"/>
<polyline points="1613.0,1017.6 1620.1,1029.0" fill="none" stroke="#ff0000" stroke-width="8" stroke-linejoin="round" stroke-linecap="round"/>
<polyline points="1626.1,1052.0 1626.5,1053.7 1631.7,1064.1" fill="none" stroke="#ff0000" stroke-width="8" stroke-linejoin="round" stroke-linecap="round"/>
<polyline points="1635.9,1086.8 1636.5,1090.1 1640.5,1099.3" fill="none" stroke="#ff0000" stroke-width="8" stroke-linejoin="round" stroke-linecap="round"/>
<polyline points="1644.8,1123.7 1645.5,1130.9 1646.6,1137.0" fill="none" stroke="#ff0000" stroke-width="8" stroke-linejoin="round" stroke-linecap="round"/>
<polyline points="1650.7,1160.1 1651.7,1165.5 1653.3,1173.3" fill="none" stroke="#ff0000" stroke-width="8" stroke-linejoin="round" stroke-linecap="round"/>
<polyline points="1657.9,1196.6 1659.1,1202.6 1660.8,1209.7" fill="none" stroke="#ff0000" stroke-width="8" stroke-linejoin="round" stroke-linecap="round"/>
<polyline points="1665.9,1231.8 1667.8,1239.7 1669.2,1244.8" fill="none" stroke="#ff0000" stroke-width="8" stroke-linejoin="round" stroke-linecap="round"/>
<polyline points="1675.1,1267.1 1677.7,1276.8 1679.1,1279.9" fill="none" stroke="#ff0000" stroke-width="8" stroke-linejoin="round" stroke-linecap="round"/>
<polyline points="1688.8,1301.5 1688.8,1301.5 1698.7,1310.2 1698.9,1310.2" fill="none" stroke="#ff0000" stroke-width="8" stroke-linejoin="round" stroke-linecap="round"/>
<polyline points="1719.4,1307.4 1732.1,1303.1" fill="none" stroke="#ff0000" stroke-width="8" stroke-linejoin="round" stroke-linecap="round"/>
<polyline points="1752.2,1306.2 1753.1,1306.4 1762.4,1314.7" fill="none" stroke="#ff0000" stroke-width="8" stroke-linejoin="round" stroke-linecap="round"/>
<polyline points="1784.6,1329.5 1785.2,1329.9 1797.9,1329.5" fill="none" stroke="#ff0000" stroke-width="8" stroke-linejoin="round" stroke-linecap="round"/>
<polyline points="1821.7,1324.1 1835.1,1324.7" fill="none" stroke="#ff0000" stroke-width="8" stroke-linejoin="round" stroke-linecap="round"/>
<polyline points="1855.9,1333.2 1868.7,1337.4" fill="none" stroke="#ff0000" stroke-width="8" stroke-linejoin="round" stroke-linecap="round"/>
<polyline points="1891.7,1336.9 1904.9,1334.5" fill="none" stroke="#ff0000" stroke-width="8" stroke-linejoin="round" stroke-linecap="round"/>
<polyline points="1929.2,1335.3 1942.2,1338.4" fill="none" stroke="#ff0000" stroke-width="8" stroke-linejoin="round" stroke-linecap="round"/>
<polyline points="1965.3,1343.2 1978.5,1341.4" fill="none" stroke="#ff0000" stroke-width="8" stroke-linejoin="round" stroke-linecap="round"/>
</g>
<text transform="translate(1240.5,1468.2) scale(1,1.045)" font-family='"Liberation Sans", Arial, sans-serif' font-size="54" text-anchor="middle">-16</text>
<text transform="translate(1417.1,1468.2) scale(1,1.045)" font-family='"Liberation Sans", Arial, sans-serif' font-size="54" text-anchor="middle">-8</text>
<text transform="translate(1593.8,1468.2) scale(1,1.045)" font-family='"Liberation Sans", Arial, sans-serif' font-size="54" text-anchor="middle">0</text>
<text transform="translate(1770.5,1468.2) scale(1,1.045)" font-family='"Liberation Sans", Arial, sans-serif' font-size="54" text-anchor="middle">8</text>
<text transform="translate(1947.1,1468.2) scale(1,1.045)" font-family='"Liberation Sans", Arial, sans-serif' font-size="54" text-anchor="middle">16</text>
<text transform="translate(1180.1,842.4) scale(1,1.045)" font-family='"Liberation Sans", Arial, sans-serif' font-size="54" text-anchor="end">10</text>
<text transform="translate(1180.1,1107.9) scale(1,1.045)" font-family='"Liberation Sans", Arial, sans-serif' font-size="54" text-anchor="end">5</text>
<text transform="translate(1180.1,1373.5) scale(1,1.045)" font-family='"Liberation Sans", Arial, sans-serif' font-size="54" text-anchor="end">0</text>
<text x="1594.0" y="1518.7" font-family='"Liberation Sans", Arial, sans-serif' font-size="64" font-weight="normal" text-anchor="middle">B (mT)</text>
<text x="1040.0" y="828.8" font-family='"Liberation Sans", Arial, sans-serif' font-size="75" font-weight="bold" text-anchor="start">d</text>
<text transform="translate(1092.5,1192.2) rotate(-90) scale(0.987,1)" font-family='"Liberation Sans", Arial, sans-serif' font-size="64"><tspan font-family='"Liberation Serif", "Times New Roman", serif'>Δ</tspan>I<tspan font-size="43" dy="17.5">c</tspan><tspan dy="-17.5"> (</tspan><tspan font-family='"Liberation Serif", "Times New Roman", serif'>µ</tspan>A)</text>
<line x1="1212.0" y1="830.0" x2="1270.7" y2="830.0" stroke="#ff00ff" stroke-width="8.3" stroke-linecap="round"/>
<line x1="1211.9" y1="894.9" x2="1225.5" y2="894.9" stroke="#0000ff" stroke-width="8.2" stroke-linecap="round"/>
<line x1="1249.0" y1="894.9" x2="1262.7" y2="894.9" stroke="#0000ff" stroke-width="8.2" stroke-linecap="round"/>
<line x1="1211.9" y1="959.5" x2="1225.5" y2="959.5" stroke="#ff0000" stroke-width="8.2" stroke-linecap="round"/>
<line x1="1249.0" y1="959.5" x2="1262.7" y2="959.5" stroke="#ff0000" stroke-width="8.2" stroke-linecap="round"/>
<text x="1285.0" y="848.8" font-family='"Liberation Sans", Arial, sans-serif' font-size="53" font-weight="normal" text-anchor="start">data</text>
<text x="1285.0" y="912.9" font-family='"Liberation Sans", Arial, sans-serif' font-size="53" font-weight="normal" text-anchor="start">edge current</text>
<text x="1285.0" y="977.8" font-family='"Liberation Sans", Arial, sans-serif' font-size="53" font-weight="normal" text-anchor="start">uniform current</text>
<line x1="1593.8" y1="799.8" x2="1593.8" y2="1410.6" stroke="#000" stroke-width="6.8" stroke-linecap="butt"/>
</svg>
</body></html>
